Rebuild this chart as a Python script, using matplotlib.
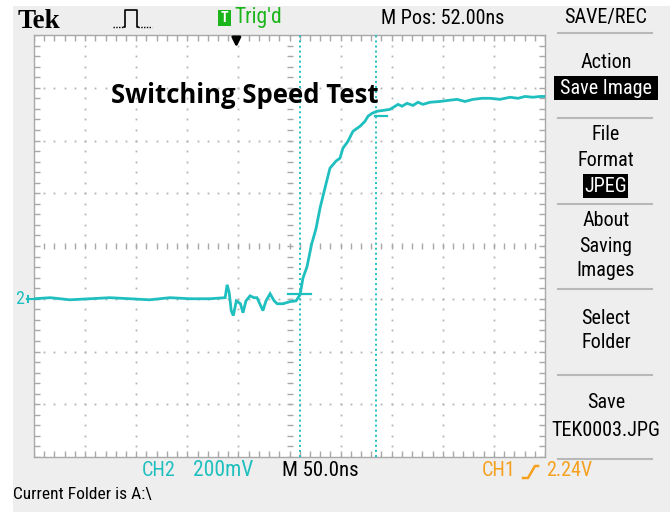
import numpy as np
import matplotlib
matplotlib.use("Agg")
import matplotlib.pyplot as plt
from matplotlib import font_manager
from matplotlib.patches import Rectangle

# CH2 trace: time (ns, 0 = screen centre), volts (mV above CH2 ground)
t_ns = [-250, -234, -215, -195, -176, -156, -137, -117, -97, -78, -63,
        -61, -59, -57, -55, -52, -48, -45.5, -42.6, -38.6, -34.7, -31.8, -26, -23, -19, -15, -12,
        -6.4, 0.5, 6.4, 10.3,
        13.2, 17.1, 21.7, 25.9, 29.9, 34.7, 39.6, 45.5, 49.4, 52.3, 57.2, 62.1, 69.0, 73.9,
        76.8, 80.7, 85.6, 91.5, 98.3,
        106.2, 110.1, 115.0, 120.8, 125.7, 130.6, 137.5, 147.3, 155.1, 163.9, 171.7, 179.6,
        188.4, 196.2, 206.0, 215.8, 223.6, 230.4, 238.3, 245.1, 249.0]
v_mv = [0, 4, -4, 0, 4, 0, -4, 4, 0, 0, 4,
        53, 23, -45, -64, -8, -19, -53, -8, 11, 4, 4, -45, -8, 19, -8, -19,
        -19, -11, -8, 15,
        79, 121, 208, 265, 344, 420, 495, 522, 533, 571, 597, 635, 654, 673,
        692, 703, 711, 714, 718,
        737, 730, 741, 733, 745, 737, 745, 748, 752, 756, 748, 756, 760,
        760, 756, 764, 760, 767, 764, 767, 767]

cursor_t = [10, 85]              # ns, vertical cursors
cursor_level = [18, 693]         # mV, crosshair marks
cursor_span = [(-1.5, 21), (84, 95.5)]

ns_per_div = 50
mv_per_div = 200
trig_pos = 52.0                  # M Pos
mv_centre = 200                  # ground is 1 div below centre

menu_items = [("Action", 63), ("File", 135), ("Format", 160),
              ("About", 220), ("Saving", 246), ("Images", 271),
              ("Select", 318), ("Folder", 343), ("Save", 403), ("TEK0003.JPG", 430)]
menu_boxes = [("Save Image", 88, 554, 658), ("JPEG", 186, 583, 628)]
menu_seps = [33, 118, 204, 289, 375, 459]

names = {f.name for f in font_manager.fontManager.ttflist}
SCOPE = next((n for n in ("Roboto Condensed", "Archivo Narrow", "PT Sans Narrow")
              if n in names), "DejaVu Sans")
FS = 14.5

TRACE = "#1fbfbf"
ORANGE = "#f5a01e"
GREEN = "#1bb51b"
GRAY_BG = "#eeeeee"

W, H = 670, 512
fig = plt.figure(figsize=(W / 100, H / 100), dpi=100, facecolor=GRAY_BG)

# graticule axes (pixel box 34..545 x 35..457)
ax = fig.add_axes([34 / W, 1 - 457 / H, 511 / W, 422 / H], zorder=1)
ax.set_facecolor("white")
xmin, xmax = -5 * ns_per_div, 5 * ns_per_div
ymin, ymax = mv_centre - 4 * mv_per_div, mv_centre + 4 * mv_per_div
ax.set_xlim(xmin, xmax)
ax.set_ylim(ymin, ymax)
ax.set_xticks([]); ax.set_yticks([])
for s in ax.spines.values():
    s.set_color("#a8a8a8"); s.set_linewidth(1.0)

dot_kw = dict(ls="none", marker="s", ms=1.3, color="#b4b4b4", mec="none")
ys_fine = np.arange(ymin, ymax + 1, mv_per_div / 5)
xs_fine = np.arange(xmin, xmax + 1, ns_per_div / 5)
for k in range(1, 10):
    x = xmin + k * ns_per_div
    if k == 5:
        ax.plot(np.full_like(ys_fine, x), ys_fine, ls="none", marker="_", ms=4,
                mew=1.0, color="#a8a8a8")
    else:
        ax.plot(np.full_like(ys_fine, x), ys_fine, **dot_kw)
for k in range(1, 8):
    y = ymin + k * mv_per_div
    if k == 4:
        ax.plot(xs_fine, np.full_like(xs_fine, y), ls="none", marker="|", ms=4,
                mew=1.0, color="#a8a8a8")
    else:
        ax.plot(xs_fine, np.full_like(xs_fine, y), **dot_kw)
# edge ticks (half of each marker is clipped, leaving an inward tick)
edge_kw = dict(ls="none", ms=8, mew=1.0, color="#a8a8a8")
ax.plot(xs_fine, np.full_like(xs_fine, ymax), marker="|", **edge_kw)
ax.plot(xs_fine, np.full_like(xs_fine, ymin), marker="|", **edge_kw)
ax.plot(np.full_like(ys_fine, xmin), ys_fine, marker="_", **edge_kw)
ax.plot(np.full_like(ys_fine, xmax), ys_fine, marker="_", **edge_kw)

# cursors
for ct in cursor_t:
    ax.axvline(ct, color=TRACE, lw=1.4, ls=(0, (1, 1.6)), zorder=3)
for lvl, (a, b) in zip(cursor_level, cursor_span):
    ax.plot([a, b], [lvl, lvl], color=TRACE, lw=1.6, zorder=4)

# trace
ax.plot(t_ns, v_mv, color=TRACE, lw=2.0, zorder=5, solid_joinstyle="miter")

# overlay in pixel coordinates for the scope chrome
ov = fig.add_axes([0, 0, 1, 1], zorder=2)
ov.set_xlim(0, W); ov.set_ylim(H, 0)
ov.axis("off")
ov.patch.set_visible(False)
ov.add_patch(Rectangle((0, 0), 13, H, color="white", lw=0, zorder=0))
ov.add_patch(Rectangle((0, 0), W, 6, color="white", lw=0, zorder=0))

ov.text(18, 28, "Tek", family="Liberation Serif", weight="bold", fontsize=19.5,
        ha="left", va="baseline")
# pulse icon
ov.plot([113, 124], [27, 27], color="black", lw=1, ls=(0, (1, 1)))
ov.plot([124, 125, 125, 137, 137, 138], [27, 27, 10, 10, 27, 27], color="black", lw=1.2)
ov.plot([138, 152], [27, 27], color="black", lw=1, ls=(0, (1, 1)))
# trigger status
ov.add_patch(Rectangle((218, 10), 13, 16, color=GREEN, lw=0))
ov.text(224.5, 18.5, "T", color="white", weight="bold", fontsize=10, family=SCOPE,
        ha="center", va="center")
ov.text(234, 18, "Trig'd", color=GREEN, fontsize=15.5, family=SCOPE, ha="left", va="center")
trig_x = 34 + (-trig_pos - xmin) / (xmax - xmin) * 511
ov.annotate("", xy=(trig_x, 50), xytext=(trig_x, 36),
            arrowprops=dict(arrowstyle="-|>", color="black", lw=2, mutation_scale=13))
ov.text(443, 18, f"M Pos: {trig_pos:.2f}ns", fontsize=FS, family=SCOPE,
        ha="center", va="center")

# menu
ov.text(606, 18, "SAVE/REC", fontsize=FS, family=SCOPE, ha="center", va="center")
for y in menu_seps:
    ov.plot([558, 652], [y, y], color="#b8b8b8", lw=1.5)
for label, y in menu_items:
    ov.text(606, y, label, fontsize=FS, family=SCOPE, ha="center", va="center")
for label, y, x0, x1 in menu_boxes:
    ov.add_patch(Rectangle((x0, y - 12), x1 - x0, 24, color="black", lw=0))
    ov.text((x0 + x1) / 2, y, label, color="white", fontsize=FS, family=SCOPE,
            ha="center", va="center")

# ground marker
ov.text(20, 299, "2", color=TRACE, fontsize=13, family=SCOPE, ha="center", va="center")
ov.plot([27, 34], [299, 299], color=TRACE, lw=1.5)
ov.plot([28, 28], [296, 302], color=TRACE, lw=1.5)

# title
ov.text(111, 103, "Switching Speed Test", family="Open Sans", weight="bold",
        fontsize=18.5, ha="left", va="baseline")

# bottom readouts
ov.text(142, 471, "CH2", color=TRACE, fontsize=FS, family=SCOPE, ha="left", va="center")
ov.text(193, 471, f"{mv_per_div}mV", color=TRACE, fontsize=15.5, family=SCOPE,
        ha="left", va="center")
ov.text(282, 471, f"M {ns_per_div:.1f}ns", fontsize=15, family=SCOPE, ha="left", va="center")
ov.text(482, 471, "CH1", color=ORANGE, fontsize=FS, family=SCOPE, ha="left", va="center")
ov.plot([523, 528, 535, 538], [478, 478, 466, 466], color=ORANGE, lw=1.8)
ov.text(546, 471, "2.24V", color=ORANGE, fontsize=FS, family=SCOPE, ha="left", va="center")
ov.text(13, 494, "Current Folder is A:\\", fontsize=12.5, family=SCOPE, ha="left", va="center")

fig.savefig("out.png", dpi=100, facecolor=fig.get_facecolor())
